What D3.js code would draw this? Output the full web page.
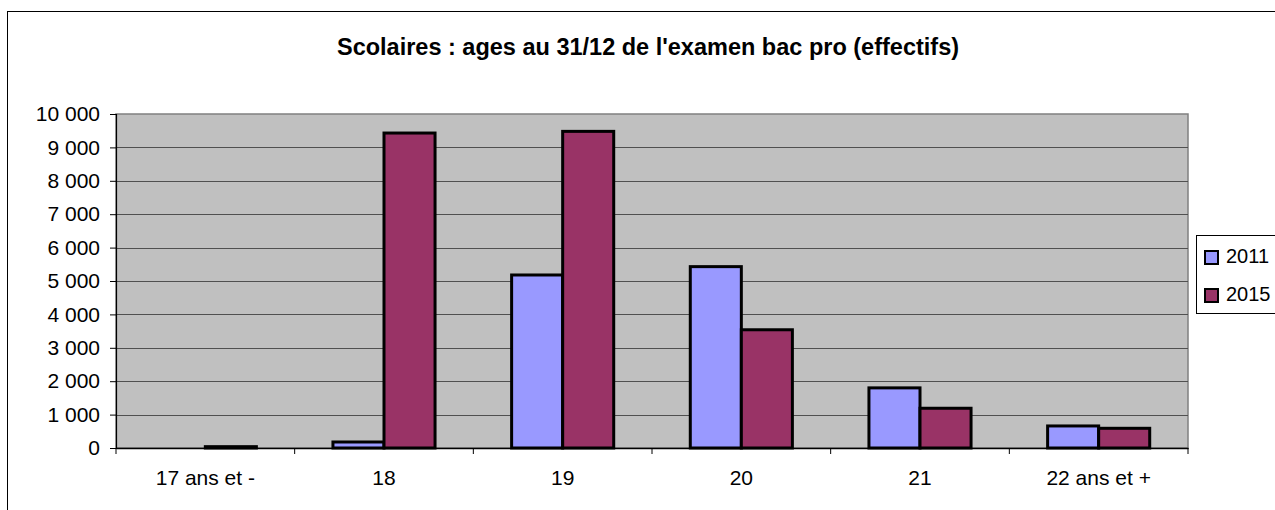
<!DOCTYPE html>
<html>
<head>
<meta charset="utf-8">
<script src="https://cdn.jsdelivr.net/npm/d3@7"></script>
<style>
  body { margin: 0; background: #fff; }
  text { font-family: "Liberation Sans", Arial, sans-serif; }
</style>
</head>
<body>
<script>
var width = 1275,
    height = 510;

var categories = ["17 ans et -", "18", "19", "20", "21", "22 ans et +"];
var years = ["2011", "2015"];
var values2011 = [0, 180, 5180, 5430, 1800, 660];
var values2015 = [40, 9430, 9480, 3540, 1190, 590];
var yTicks = [0, 1000, 2000, 3000, 4000, 5000, 6000, 7000, 8000, 9000, 10000];
var colors = ["#9999FF", "#993366"];

var plot = {left: 116, top: 114, right: 1188, bottom: 448};

var svg = d3.select("body").append("svg")
    .attr("width", width)
    .attr("height", height);

// outer chart frame (runs off the page right/bottom)
svg.append("rect")
    .attr("x", 7.5).attr("y", 11.5)
    .attr("width", 1300).attr("height", 600)
    .attr("fill", "#fff")
    .attr("stroke", "#000");

svg.append("text")
    .attr("x", 648).attr("y", 55)
    .attr("text-anchor", "middle")
    .attr("font-size", 23.5)
    .attr("font-weight", "bold")
    .text("Scolaires : ages au 31/12 de l'examen bac pro (effectifs)");

var x0 = d3.scaleBand()
    .domain(categories)
    .range([plot.left, plot.right]);

var x1 = d3.scaleBand()
    .domain(years)
    .range([0, x0.bandwidth()])
    .paddingInner(0)
    .paddingOuter(0.75);

var y = d3.scaleLinear()
    .domain([0, 10000])
    .range([plot.bottom, plot.top]);

// plot background
svg.append("rect")
    .attr("x", plot.left).attr("y", plot.top)
    .attr("width", plot.right - plot.left)
    .attr("height", plot.bottom - plot.top)
    .attr("fill", "#C0C0C0")
    .attr("stroke", "#808080")
    .attr("stroke-width", 1.5);

// gridlines
svg.append("g")
    .selectAll("line")
    .data(yTicks.filter(function(d){ return d > 0 && d < 10000; }))
    .enter().append("line")
      .attr("x1", plot.left).attr("x2", plot.right)
      .attr("y1", function(d){ return Math.round(y(d)) + 0.5; })
      .attr("y2", function(d){ return Math.round(y(d)) + 0.5; })
      .attr("stroke", "#505050")
      .attr("stroke-width", 1.2);

var fmt = function(d) {
  return d3.format(",")(d).replace(/,/g, " ");
};

var yAxis = svg.append("g")
    .attr("transform", "translate(" + plot.left + ",0)")
    .call(d3.axisLeft(y).tickValues(yTicks).tickSize(6).tickPadding(10).tickFormat(fmt));
yAxis.select(".domain").attr("stroke", "#000").attr("stroke-width", 1.2);
yAxis.selectAll(".tick line").attr("stroke", "#000");
yAxis.selectAll("text")
    .attr("font-family", "Liberation Sans, Arial, sans-serif")
    .attr("font-size", 21)
    .attr("fill", "#000");

// bars
var groups = svg.append("g")
    .selectAll("g")
    .data(categories)
    .enter().append("g")
      .attr("transform", function(d){ return "translate(" + x0(d) + ",0)"; });

groups.selectAll("rect")
    .data(function(d, i){
      return [
        {year: "2011", value: values2011[i]},
        {year: "2015", value: values2015[i]}
      ];
    })
    .enter().append("rect")
      .attr("x", function(d){ return x1(d.year); })
      .attr("width", x1.bandwidth())
      .attr("y", function(d){ return y(d.value); })
      .attr("height", function(d){ return plot.bottom - y(d.value); })
      .attr("fill", function(d, i){ return colors[i]; })
      .attr("stroke", "#000")
      .attr("stroke-width", function(d){ return d.value > 0 ? 3 : 0; });

var xAxis = svg.append("g")
    .attr("transform", "translate(0," + plot.bottom + ")")
    .call(d3.axisBottom(x0).tickSize(0).tickPadding(22));
xAxis.select(".domain").attr("stroke", "#000").attr("stroke-width", 1.5);
xAxis.selectAll("text")
    .attr("font-family", "Liberation Sans, Arial, sans-serif")
    .attr("font-size", 21)
    .attr("fill", "#000");

// category separators on x axis
svg.append("g")
    .selectAll("line")
    .data(d3.range(categories.length + 1))
    .enter().append("line")
      .attr("x1", function(i){ return plot.left + i * x0.step(); })
      .attr("x2", function(i){ return plot.left + i * x0.step(); })
      .attr("y1", plot.bottom)
      .attr("y2", plot.bottom + 6)
      .attr("stroke", "#000");

// legend
var legend = svg.append("g");
legend.append("rect")
    .attr("x", 1196.5).attr("y", 235.5)
    .attr("width", 100).attr("height", 78)
    .attr("fill", "#fff")
    .attr("stroke", "#000");

var items = legend.selectAll("g")
    .data(years)
    .enter().append("g")
      .attr("transform", function(d, i){ return "translate(1205," + (251 + i * 38) + ")"; });

items.append("rect")
    .attr("width", 13).attr("height", 13)
    .attr("fill", function(d, i){ return colors[i]; })
    .attr("stroke", "#000")
    .attr("stroke-width", 2);

items.append("text")
    .attr("x", 21).attr("y", 11.5)
    .attr("font-size", 20)
    .text(function(d){ return d; });
</script>
</body>
</html>
